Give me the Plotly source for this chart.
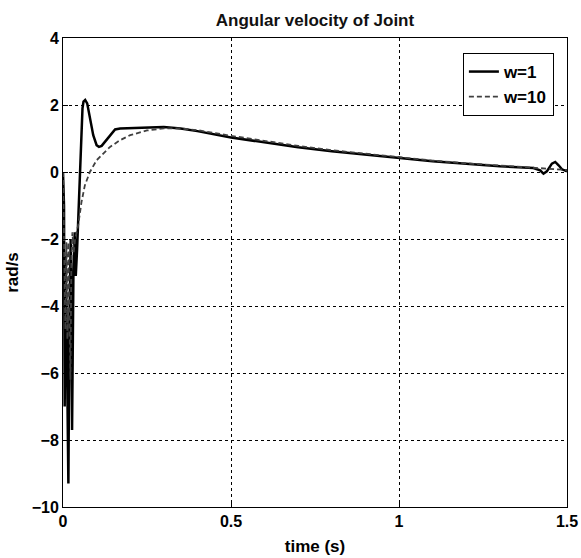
import plotly.graph_objects as go

t_w1 = [0, 0.003, 0.005, 0.008, 0.011, 0.016, 0.019, 0.023, 0.027, 0.031, 0.035, 0.038,
        0.042, 0.050, 0.058, 0.061, 0.066, 0.072, 0.08, 0.09, 0.1, 0.107, 0.115, 0.125,
        0.14, 0.155, 0.17, 0.2, 0.25, 0.3, 0.35, 0.4, 0.5, 0.6, 0.7, 0.8, 0.9, 1.0,
        1.1, 1.2, 1.3, 1.4, 1.42, 1.43, 1.44, 1.455, 1.465, 1.475, 1.485, 1.5]
v_w1 = [0, -1.0, -7.0, -2.5, -4.7, -9.3, -4.6, -2.0, -7.7, -3.0, -1.8, -3.1,
        -2.3, 0.0, 1.9, 2.1, 2.15, 2.05, 1.6, 1.1, 0.8, 0.75, 0.78, 0.9,
        1.1, 1.27, 1.3, 1.31, 1.33, 1.34, 1.3, 1.22, 1.03, 0.88, 0.74, 0.62, 0.52, 0.42,
        0.32, 0.25, 0.17, 0.12, 0.05, -0.05, 0.02, 0.25, 0.3, 0.2, 0.08, 0.02]

t_w10 = [0, 0.002, 0.004, 0.007, 0.01, 0.013, 0.016, 0.019, 0.022, 0.025, 0.028, 0.032,
         0.036, 0.045, 0.055, 0.065, 0.08, 0.1, 0.12, 0.14, 0.17, 0.2, 0.25, 0.3, 0.35,
         0.4, 0.5, 0.6, 0.7, 0.8, 0.9, 1.0, 1.1, 1.2, 1.3, 1.4, 1.5]
v_w10 = [0, -1.2, -2.3, -4.7, -2.1, -5.0, -2.1, -4.8, -6.2, -2.6, -1.8, -2.4,
         -2.0, -1.6, -0.9, -0.4, 0.0, 0.35, 0.55, 0.75, 0.95, 1.1, 1.24, 1.3, 1.3,
         1.25, 1.08, 0.92, 0.78, 0.65, 0.54, 0.44, 0.34, 0.26, 0.19, 0.13, 0.06]

x_ticks = [0, 0.5, 1, 1.5]
x_tick_labels = ["0", "0.5", "1", "1.5"]
y_ticks = [-10, -8, -6, -4, -2, 0, 2, 4]

font_family = "Liberation Sans, Arial, sans-serif"

fig = go.Figure()
fig.add_trace(go.Scatter(x=t_w1, y=v_w1, mode="lines", name="w=1",
                         line=dict(color="black", width=2.5)))
fig.add_trace(go.Scatter(x=t_w10, y=v_w10, mode="lines", name="w=10",
                         line=dict(color="#404040", width=1.8, dash="5px,3px")))

axis_common = dict(
    showline=True, linecolor="black", linewidth=1, mirror=True,
    showgrid=True, gridcolor="black", gridwidth=1, griddash="3px,3px",
    zeroline=False, ticks="inside", ticklen=5, tickcolor="black",
    automargin=False,
    tickfont=dict(family=font_family, size=16, color="black", weight="bold"),
)

fig.update_layout(
    width=581, height=558,
    margin=dict(l=63, r=14, t=38, b=51),
    paper_bgcolor="white", plot_bgcolor="white",
    title=dict(text="Angular velocity of Joint", x=315 / 581, xanchor="center",
               y=1 - 20 / 558, yanchor="middle",
               font=dict(family=font_family, size=17, color="#111111", weight="bold")),
    xaxis=dict(range=[0, 1.5], tickvals=x_ticks, ticktext=x_tick_labels,
               title=dict(text="time (s)", standoff=10,
                          font=dict(family=font_family, size=17, color="black", weight="bold")),
               **axis_common),
    yaxis=dict(range=[-10, 4], tickvals=y_ticks,
               title=dict(text="rad/s", standoff=8,
                          font=dict(family=font_family, size=17, color="black", weight="bold")),
               **axis_common),
    legend=dict(x=0.974, y=0.968, xanchor="right", yanchor="top",
                bgcolor="white", bordercolor="black", borderwidth=1,
                font=dict(family=font_family, size=17, color="black", weight="bold"),
                tracegroupgap=0),
    showlegend=True,
)

fig.write_html("out.html", config={"displayModeBar": False},
               post_script="document.body.style.margin='0';")
